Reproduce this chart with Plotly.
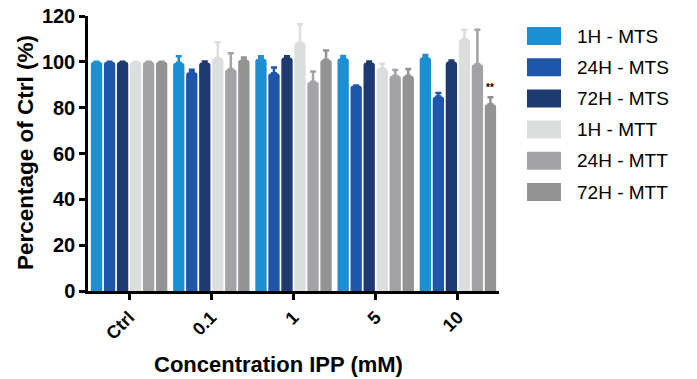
import plotly.graph_objects as go

categories = ["Ctrl", "0.1", "1", "5", "10"]
series_names = ["1H - MTS", "24H - MTS", "72H - MTS", "1H - MTT", "24H - MTT", "72H - MTT"]
colors = ["#1b8fd2", "#1d56aa", "#1f3a70", "#dcdddd", "#a2a2a7", "#939393"]

mts_1h = [100, 99.6, 101.4, 101.6, 102.0]
mts_24h = [100, 95.5, 95.0, 89.7, 84.9]
mts_72h = [100, 99.7, 101.9, 99.7, 100.1]
mtt_1h = [100, 101.6, 108.4, 97.2, 110.0]
mtt_24h = [100, 96.8, 91.3, 93.9, 99.0]
mtt_72h = [100, 100.9, 100.9, 93.9, 81.5]

err_mts_1h = [0, 2.8, 1.0, 1.0, 1.0]
err_mts_24h = [0, 1.0, 2.5, 0, 1.5]
err_mts_72h = [0, 0.5, 0.5, 0.5, 0.5]
err_mtt_1h = [0, 7.0, 8.0, 2.0, 4.0]
err_mtt_24h = [0, 7.0, 4.5, 2.5, 15.0]
err_mtt_72h = [0, 1.0, 4.0, 3.0, 3.0]

values = [mts_1h, mts_24h, mts_72h, mtt_1h, mtt_24h, mtt_72h]
errors = [err_mts_1h, err_mts_24h, err_mts_72h, err_mtt_1h, err_mtt_24h, err_mtt_72h]

y_ticks = [0, 20, 40, 60, 80, 100, 120]
x_title = "Concentration IPP (mM)"
y_title = "Percentage of Ctrl (%)"
FONT = "Liberation Sans, Arial, sans-serif"

W, H = 697, 379
ML, MT = 88, 16
PW, PH = 411, 275
MR, MB = W - ML - PW, H - MT - PH

fig = go.Figure()
for name, col, v, e in zip(series_names, colors, values, errors):
    fig.add_trace(go.Bar(
        x=categories, y=v, name=name, showlegend=False,
        marker=dict(color=col, line=dict(width=0), cornerradius=3),
        error_y=dict(type="data", symmetric=False, array=e, arrayminus=[0] * len(e),
                     color=col, thickness=2.5, width=3),
    ))

bargap = 0.05
slot = (1 - bargap) / 6
fig.add_annotation(x=4 + 2.5 * slot, y=mtt_72h[4] + err_mtt_72h[4] + 1.0,
                   xref="x", yref="y", text="<b>**</b>", showarrow=False,
                   yanchor="bottom", font=dict(size=10, color="black", family=FONT))


# screen pixel -> paper coordinates
def px_x(p):
    return (p - ML) / PW


def px_y(p):
    return (MT + PH - p) / PH


# legend (large swatches + labels), built from series_names/colors
row0, row_step = 36, 31.2
for i, (name, col) in enumerate(zip(series_names, colors)):
    cy = row0 + i * row_step
    fig.add_shape(type="rect", xref="paper", yref="paper",
                  x0=px_x(527), x1=px_x(561), y0=px_y(cy + 9), y1=px_y(cy - 9),
                  fillcolor=col, line=dict(width=0), layer="above")
    fig.add_annotation(xref="paper", yref="paper", x=px_x(575), y=px_y(cy),
                       text=name, showarrow=False, xanchor="left", yanchor="middle",
                       font=dict(size=19, color="black", family=FONT))

# axis titles
fig.add_annotation(xref="paper", yref="paper", x=px_x(278), y=px_y(364),
                   text=f"<b>{x_title}</b>", showarrow=False,
                   xanchor="center", yanchor="middle",
                   font=dict(size=22, color="black", family=FONT))
fig.add_annotation(xref="paper", yref="paper", x=px_x(25), y=px_y(153),
                   text=f"<b>{y_title}</b>", showarrow=False, textangle=-90,
                   xanchor="center", yanchor="middle",
                   font=dict(size=22.5, color="black", family=FONT))

fig.update_layout(
    width=W, height=H,
    barmode="group", bargap=bargap, bargroupgap=0.13,
    plot_bgcolor="white", paper_bgcolor="white",
    margin=dict(l=ML, r=MR, t=MT, b=MB, autoexpand=False),
    font=dict(family=FONT, color="black"),
    showlegend=False,
)
fig.update_xaxes(
    type="category", range=[-0.5, 4.5], automargin=False,
    showline=True, linecolor="black", linewidth=2.5,
    ticks="outside", ticklen=6, tickwidth=2.5, tickcolor="black",
    tickangle=-45, tickfont=dict(size=18, family=FONT),
    tickprefix="<b>", ticksuffix="</b>",
    showgrid=False, zeroline=False,
)
fig.update_yaxes(
    range=[0, 120], tickvals=y_ticks, automargin=False,
    ticktext=[f"<b>{t}</b>" for t in y_ticks],
    showline=True, linecolor="black", linewidth=2.5,
    ticks="outside", ticklen=6, tickwidth=2.5, tickcolor="black",
    tickfont=dict(size=20, family=FONT),
    showgrid=False, zeroline=False,
)

fig.write_html("out.html", config={"displayModeBar": False},
               post_script="document.body.style.margin='0';")
